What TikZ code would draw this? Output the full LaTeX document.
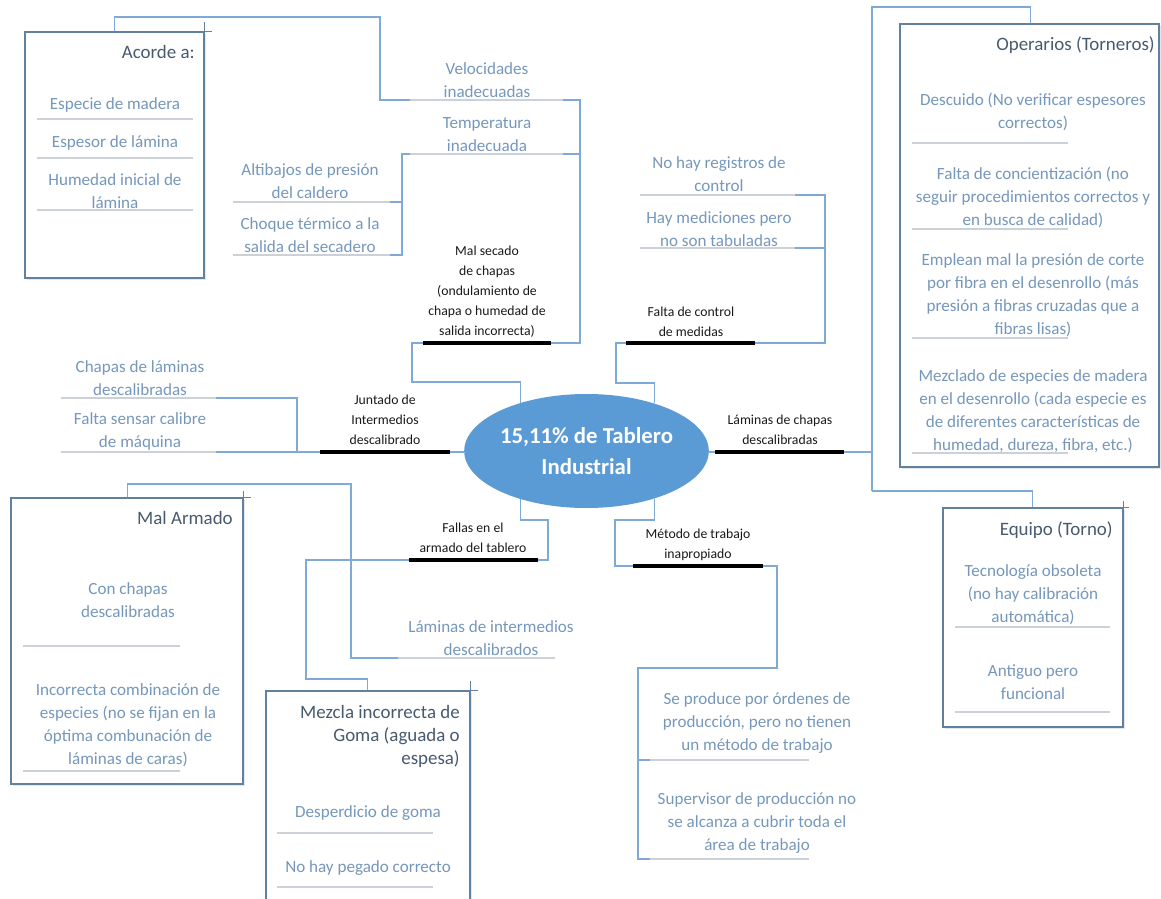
\documentclass[tikz,border=0pt]{standalone}
\usepackage{fontspec}
\setmainfont{Carlito}
\usetikzlibrary{fit}
\usetikzlibrary{positioning}
\usetikzlibrary{shapes.geometric,shadows}

\definecolor{itemblue}{HTML}{7597BC}
\definecolor{headgray}{HTML}{475A6E}
\definecolor{linkblue}{HTML}{7FA9D6}
\definecolor{framegray}{HTML}{62819E}
\definecolor{rulegray}{HTML}{CBD1D7}
\definecolor{goalblue}{HTML}{5B9BD5}

\begin{document}
\begin{tikzpicture}[
    x=0.75pt, y=-0.75pt,
    item/.style={
        text=itemblue,
        align=center,
        inner sep=0pt,
        font=\fontsize{12.8}{17.25}\selectfont
    },
    head/.style={
        text=headgray,
        align=right,
        anchor=east,
        inner sep=0pt,
        font=\fontsize{14.2}{17.25}\selectfont
    },
    cause/.style={
        text=black!90,
        align=center,
        inner sep=0pt,
        font=\fontsize{10.3}{15}\selectfont
    },
    frame/.style={
        draw=framegray,
        line width=0.9pt,
        inner sep=0pt,
        fill=white,
        drop shadow={shadow xshift=1.5pt, shadow yshift=-1.5pt, opacity=0.18, fill=framegray}
    },
    tick/.style={draw=framegray, line width=0.9pt},
    bar/.style={line width=3pt, black},
    link/.style={draw=linkblue, line width=0.8pt},
    rule/.style={draw=rulegray, line width=1pt},
    goal/.style={
        ellipse,
        fill=goalblue,
        text=white,
        align=center,
        inner sep=0pt,
        minimum width=155pt,
        minimum height=85.5pt,
        font=\bfseries\fontsize{17.1}{23.25}\selectfont
    }
]

\clip (0,0) rectangle (1161,899);

% boxes
\coordinate (acNW) at (25,32);   \coordinate (acSE) at (204,278);
\coordinate (opNW) at (900,24);  \coordinate (opSE) at (1159,467);
\coordinate (eqNW) at (943,508); \coordinate (eqSE) at (1123,727);
\coordinate (maNW) at (11,498);  \coordinate (maSE) at (243,784);
\coordinate (mzNW) at (266,691); \coordinate (mzSE) at (470,930);

\node[frame, fit=(acNW) (acSE)] (acorde) {};
\node[frame, fit=(opNW) (opSE)] (operarios) {};
\node[frame, fit=(eqNW) (eqSE)] (equipo) {};
\node[frame, fit=(maNW) (maSE)] (armado) {};
\node[frame, fit=(mzNW) (mzSE)] (mezcla) {};

\draw[tick] (acorde.north east) -- ++(7,0) (acorde.north east) -- ++(0,-9);
\draw[tick] (equipo.north east) -- ++(5,0) (equipo.north east) -- ++(0,-6);
\draw[tick] (armado.north east) -- ++(7,0) (armado.north east) -- ++(0,-6);
\draw[tick] (mezcla.north east) -- ++(7,0) (mezcla.north east) -- ++(0,-9);

% effect
\node[goal] (goal) at (586.5,451) {15,11\% de Tablero\\Industrial};

% bars
\coordinate (secL) at (423,343); \coordinate (secR) at (551,343);
\coordinate (ctrL) at (626,343); \coordinate (ctrR) at (755,343);
\coordinate (jntL) at (320,452); \coordinate (jntR) at (450,452);
\coordinate (lamL) at (715,452); \coordinate (lamR) at (844,452);
\coordinate (falL) at (409,560); \coordinate (falR) at (538,560);
\coordinate (metL) at (633,566); \coordinate (metR) at (763,566);

% connectors
\draw[link] (acorde.north west) ++(90,0) |- (380,17) |- (580,100) |- (secR);
\draw[link] (580,154) -- (402,154) -- (402,255) -- (233,255) (402,202) -- (233,202);
\draw[link] (secL) -- ++(-11,0) -- ++(0,39) -| (goal.144);
\draw[link] (ctrR) -| (825,195) -- (640,195) (825,248) -- (640,248);
\draw[link] (ctrL) -- ++(-10,0) -- ++(0,40) -| (goal.35);
\draw[link] (jntR) -- (jntR -| goal.west) (jntL) -- (61,452) (297,452) |- (61,398);
\draw[link] (lamL -| goal.east) -- (lamL) (lamR) -- (872,452);
\draw[link] (operarios.north west) ++(131,0) |- (872,7) -- (872,491);
\draw[link] (equipo.north west) ++(90,0) |- (872,491);
\draw[link] (goal.216) |- (548,520) |- (falR);
\draw[link] (mezcla.north west) ++(102,0) |- (306,679) |- (falL);
\draw[link] (armado.north west) ++(117,0) |- (351,484) |- (555,658);
\draw[link] (goal.325) |- (615,520) |- (metL);
\draw[link] (metR) -| (777,668) -| (638,859) -- (650,859) (638,760) -- (650,760);

% underlines
\foreach \y in {119,158,210} \draw[rule] (37,\y) -- (193,\y);
\foreach \y in {100,154} \draw[rule] (410,\y) -- (563,\y);
\foreach \y in {202,255} \draw[rule] (233,\y) -- (390,\y);
\foreach \y in {195,248} \draw[rule] (640,\y) -- (795,\y);
\foreach \y in {398,452} \draw[rule] (61,\y) -- (216,\y);
\foreach \y in {143,229,338,453} \draw[rule] (912,\y) -- (1068,\y);
\foreach \y in {627,712} \draw[rule] (955,\y) -- (1110,\y);
\foreach \y in {646,771} \draw[rule] (23,\y) -- (180,\y);
\foreach \y in {833,887} \draw[rule] (277,\y) -- (433,\y);
\foreach \y in {760,859} \draw[rule] (650,\y) -- (809,\y);
\draw[rule] (398,658) -- (555,658);

\foreach \a/\b in {secL/secR, ctrL/ctrR, jntL/jntR, lamL/lamR, falL/falR, metL/metR}
    \draw[bar] (\a) -- (\b);

% causes
\node[cause] (csecado) at (487,292) {Mal secado\\de chapas\\(ondulamiento de\\chapa o humedad de\\salida incorrecta)};
\node[cause] (ccontrol) at (691,322) {Falta de control\\de medidas};
\node[cause] (cjuntado) at (385,420) {Juntado de\\Intermedios\\descalibrado};
\node[cause] (claminas) at (780,430) {Láminas de chapas\\descalibradas};
\node[cause] (cfallas) at (473,538) {Fallas en el\\armado del tablero};
\node[cause] (cmetodo) at (698,545) {Método de trabajo\\inapropiado};

% titles
\node[head] (tacorde) at (195,52) {Acorde a:};
\node[head] (toperarios) at (1155,45) {Operarios (Torneros)};
\node[head] (tequipo) at (1113,530) {Equipo (Torno)};
\node[head] (tarmado) at (233,518) {Mal Armado};
\node[head] (tmezcla) at (460,736) {Mezcla incorrecta de\\Goma (aguada o\\espesa)};

% sub-causes
\node[item] (especie) at (115,105) {Especie de madera};
\node[item] (espesor) at (115,143) {Espesor de lámina};
\node[item] (humedad) at (115,191) {Humedad inicial de\\lámina};
\node[item] (velo) at (487,80.5) {Velocidades\\inadecuadas};
\node[item] (temp) at (487,134.5) {Temperatura\\inadecuada};
\node[item] (alti) at (310,181.5) {Altibajos de presión\\del caldero};
\node[item] (choque) at (310,235) {Choque térmico a la\\salida del secadero};
\node[item] (noreg) at (719,174.5) {No hay registros de\\control};
\node[item] (haymed) at (719,229.5) {Hay mediciones pero\\no son tabuladas};
\node[item] (chapas) at (140,378) {Chapas de láminas\\descalibradas};
\node[item] (sensar) at (140,431.5) {Falta sensar calibre\\de máquina};
\node[item] (descuido) at (1033,111.5) {Descuido (No verificar espesores\\correctos)};
\node[item] (concien) at (1033,197) {Falta de concientización (no\\seguir procedimientos correctos y\\en busca de calidad)};
\node[item] (presion) at (1033,295) {Emplean mal la presión de corte\\por fibra en el desenrollo (más\\presión a fibras cruzadas que a\\fibras lisas)};
\node[item] (mezclado) at (1033,411.5) {Mezclado de especies de madera\\en el desenrollo (cada especie es\\de diferentes características de\\humedad, dureza, fibra, etc.)};
\node[item] (tecno) at (1033,595) {Tecnología obsoleta\\(no hay calibración\\automática)};
\node[item] (antiguo) at (1033,682.5) {Antiguo pero\\funcional};
\node[item] (conchapas) at (128,600) {Con chapas\\descalibradas};
\node[item] (combina) at (128,725) {Incorrecta combinación de\\especies (no se fijan en la\\óptima combunación de\\láminas de caras)};
\node[item] (intermed) at (491,638.5) {Láminas de intermedios\\descalibrados};
\node[item] (desperd) at (368,813) {Desperdicio de goma};
\node[item] (pegado) at (368,868) {No hay pegado correcto};
\node[item] (orden) at (757,723) {Se produce por órdenes de\\producción, pero no tienen\\un método de trabajo};
\node[item] (superv) at (757,823) {Supervisor de producción no\\se alcanza a cubrir toda el\\área de trabajo};
\end{tikzpicture}
\end{document}
